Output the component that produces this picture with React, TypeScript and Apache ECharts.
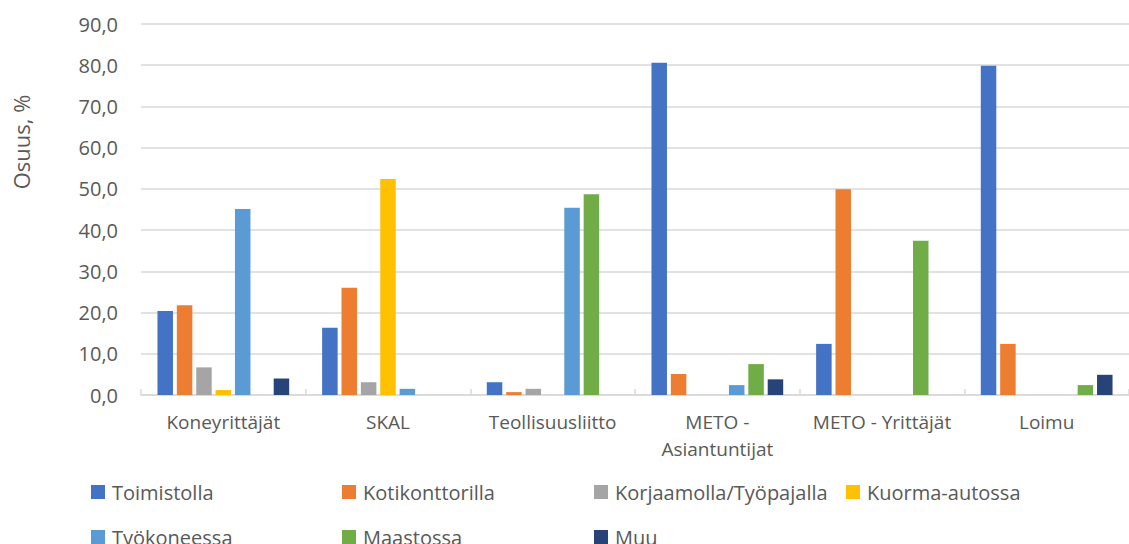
import React, { useEffect, useRef } from "react";
import * as echarts from "echarts";

// Categories (organisations) along the x axis
const categories = [
  "Koneyrittäjät",
  "SKAL",
  "Teollisuusliitto",
  "METO -\nAsiantuntijat",
  "METO - Yrittäjät",
  "Loimu",
];

// Share (%) of respondents per working place
const toimistolla = [20.4, 16.3, 3.1, 80.6, 12.4, 79.9];
const kotikonttorilla = [21.8, 26.0, 0.7, 5.1, 49.9, 12.4];
const korjaamolla = [6.7, 3.1, 1.5, 0, 0, 0];
const kuormaAutossa = [1.2, 52.4, 0, 0, 0, 0];
const tyokoneessa = [45.1, 1.5, 45.4, 2.4, 0, 0];
const maastossa = [0, 0, 48.7, 7.5, 37.4, 2.4];
const muu = [4.0, 0, 0, 3.8, 0, 4.9];

const seriesNames = [
  "Toimistolla",
  "Kotikonttorilla",
  "Korjaamolla/Työpajalla",
  "Kuorma-autossa",
  "Työkoneessa",
  "Maastossa",
  "Muu",
];
const seriesValues = [
  toimistolla,
  kotikonttorilla,
  korjaamolla,
  kuormaAutossa,
  tyokoneessa,
  maastossa,
  muu,
];
const colors = ["#4472C4", "#ED7D31", "#A5A5A5", "#FFC000", "#5B9BD5", "#70AD47", "#264478"];

const yTicks = { min: 0, max: 90, interval: 10 };

const FONT = "'Open Sans', sans-serif";
const TEXT = "#595959";
const GRID = "#D9D9D9";

// Legend slots: [left, top] for each entry, laid out in fixed columns
const legendSlots: [number, number][] = [
  [91, 482],
  [342, 482],
  [594, 482],
  [846, 482],
  [91, 527],
  [342, 527],
  [594, 527],
];

export default function App() {
  const ref = useRef<HTMLDivElement>(null);

  useEffect(() => {
    document.body.style.margin = "0";
    if (!ref.current) return;
    const chart = echarts.init(ref.current, undefined, { renderer: "svg" });

    const option: echarts.EChartsOption = {
      animation: false,
      color: colors,
      textStyle: { fontFamily: FONT },
      grid: { left: 141, top: 24, width: 996, height: 371, containLabel: false },
      legend: seriesNames.map((name, i) => ({
        data: [name],
        left: legendSlots[i][0],
        top: legendSlots[i][1],
        orient: "horizontal",
        padding: 0,
        itemWidth: 14,
        itemHeight: 14,
        itemGap: 0,
        icon: "rect",
        textStyle: {
          fontFamily: FONT,
          fontSize: 20,
          color: TEXT,
          padding: [0, 0, 0, 2],
          lineHeight: 20,
        },
      })),
      graphic: [
        {
          type: "text",
          x: 21,
          y: 142,
          rotation: Math.PI / 2,
          style: {
            text: "Osuus, %",
            fontFamily: FONT,
            fontSize: 22,
            fill: TEXT,
            align: "center",
            verticalAlign: "middle",
          },
        },
      ],
      xAxis: {
        type: "category",
        data: categories,
        axisLine: { lineStyle: { color: GRID, width: 1.5 } },
        axisTick: {
          show: true,
          inside: true,
          length: 6,
          lineStyle: { color: GRID, width: 1.5 },
        },
        axisLabel: {
          fontFamily: FONT,
          fontSize: 19,
          color: TEXT,
          margin: 13,
          lineHeight: 27,
          interval: 0,
        },
      },
      yAxis: {
        type: "value",
        min: yTicks.min,
        max: yTicks.max,
        interval: yTicks.interval,
        axisLine: { show: false },
        axisTick: { show: false },
        splitLine: { lineStyle: { color: GRID, width: 1.5 } },
        axisLabel: {
          fontFamily: FONT,
          fontSize: 20,
          color: TEXT,
          margin: 23,
          formatter: (v: number) => v.toFixed(1).replace(".", ","),
        },
      },
      series: seriesNames.map((name, i) => ({
        name,
        type: "bar",
        data: seriesValues[i],
        barGap: "25%",
        barCategoryGap: "20%",
        itemStyle: { color: colors[i] },
      })),
    };

    chart.setOption(option);
    return () => chart.dispose();
  }, []);

  return <div ref={ref} style={{ width: 1129, height: 544 }} />;
}
